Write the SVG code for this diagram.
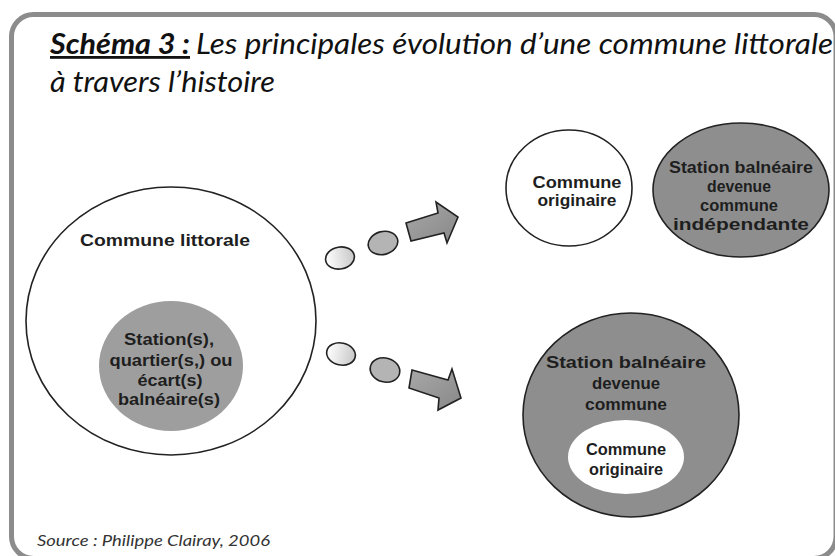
<svg xmlns="http://www.w3.org/2000/svg" width="835" height="556" viewBox="0 0 835 556">
  <defs>
    <linearGradient id="dotLight" x1="0" y1="0" x2="1" y2="0">
      <stop offset="0" stop-color="#ffffff"/>
      <stop offset="1" stop-color="#c8c8c8"/>
    </linearGradient>
    <linearGradient id="arrowGrad" x1="0" y1="0" x2="1" y2="1">
      <stop offset="0" stop-color="#a8a8a8"/>
      <stop offset="1" stop-color="#888888"/>
    </linearGradient>
  </defs>
  <style>
    .title { font-family: "Lato", "Open Sans", "Liberation Sans", sans-serif; font-style: italic; font-size: 28px; fill: #111; }
    .titleb { font-weight: bold; text-decoration: underline; }
    .lbl { font-family: "Liberation Sans", Arial, sans-serif; font-weight: bold; font-size: 17px; fill: #1e1e1e; text-anchor: middle; }
    .src { font-family: "Lato", "Open Sans", "Liberation Sans", sans-serif; font-style: italic; font-size: 16px; fill: #333; }
    .outline { stroke: #222; stroke-width: 1.6; }
    .dot { stroke: #222; stroke-width: 1.6; }
    .arrow { fill: url(#arrowGrad); stroke: #222; stroke-width: 1.6; stroke-linejoin: miter; }
  </style>
  <rect x="0" y="0" width="835" height="556" fill="#ffffff"/>
  <rect id="frame" x="11.5" y="14.5" width="824.5" height="544" rx="22" ry="22" fill="#ffffff" stroke="#8c8c8c" stroke-width="5"/>

  <g id="title">
    <text class="title titleb" x="50" y="54" textLength="140" lengthAdjust="spacingAndGlyphs">Schéma 3 :</text>
    <text class="title" x="196" y="54" textLength="637" lengthAdjust="spacingAndGlyphs">Les principales évolution d’une commune littorale</text>
    <text class="title" x="50" y="92" textLength="225" lengthAdjust="spacingAndGlyphs">à travers l’histoire</text>
  </g>

  <g id="commune-littorale">
    <ellipse cx="171" cy="321" rx="145" ry="134" fill="#ffffff" class="outline"/>
    <text class="lbl" x="165" y="246" textLength="170" lengthAdjust="spacingAndGlyphs">Commune littorale</text>
  </g>
  <g id="stations">
    <ellipse cx="171" cy="366" rx="72" ry="65" fill="#9e9e9e"/>
    <text class="lbl" x="169" y="345" textLength="90" lengthAdjust="spacingAndGlyphs">Station(s),</text>
    <text class="lbl" x="171" y="366" textLength="123" lengthAdjust="spacingAndGlyphs">quartier(s,) ou</text>
    <text class="lbl" x="170" y="386" textLength="65" lengthAdjust="spacingAndGlyphs">écart(s)</text>
    <text class="lbl" x="169" y="405" textLength="102" lengthAdjust="spacingAndGlyphs">balnéaire(s)</text>
  </g>

  <g id="connectors">
    <ellipse cx="340" cy="258" rx="14.5" ry="11" transform="rotate(-10 340 258)" fill="url(#dotLight)" class="dot"/>
    <ellipse cx="383" cy="243" rx="15" ry="11.5" transform="rotate(-15 383 243)" fill="#b4b4b4" class="dot"/>
    <polygon class="arrow" points="406,223 438,213 436,202 458,217 447,243 444,233 411,241"/>
    <ellipse cx="341" cy="354" rx="14.5" ry="11" transform="rotate(12 341 354)" fill="url(#dotLight)" class="dot"/>
    <ellipse cx="385" cy="370" rx="15" ry="12" transform="rotate(15 385 370)" fill="#b4b4b4" class="dot"/>
    <polygon class="arrow" points="412,370 448,380 452,369 461,398 438,410 439,398 409,388"/>
  </g>

  <g id="commune-originaire-1">
    <ellipse cx="569" cy="188" rx="63" ry="58" fill="#ffffff" class="outline"/>
    <text class="lbl" x="577" y="188" textLength="89" lengthAdjust="spacingAndGlyphs">Commune</text>
    <text class="lbl" x="577" y="206" textLength="79" lengthAdjust="spacingAndGlyphs">originaire</text>
  </g>
  <g id="station-independante">
    <ellipse cx="741" cy="190" rx="88" ry="67" fill="#8e8e8e" class="outline"/>
    <text class="lbl" x="741" y="173" textLength="144" lengthAdjust="spacingAndGlyphs">Station balnéaire</text>
    <text class="lbl" x="739" y="192" textLength="64" lengthAdjust="spacingAndGlyphs">devenue</text>
    <text class="lbl" x="739" y="211" textLength="78" lengthAdjust="spacingAndGlyphs">commune</text>
    <text class="lbl" x="741" y="230" textLength="136" lengthAdjust="spacingAndGlyphs">indépendante</text>
  </g>

  <g id="station-commune">
    <ellipse cx="631" cy="415" rx="108" ry="102" fill="#8e8e8e" class="outline"/>
    <text class="lbl" x="626" y="368" textLength="160" lengthAdjust="spacingAndGlyphs">Station balnéaire</text>
    <text class="lbl" x="626" y="389" textLength="68" lengthAdjust="spacingAndGlyphs">devenue</text>
    <text class="lbl" x="626" y="410" textLength="82" lengthAdjust="spacingAndGlyphs">commune</text>
  </g>
  <g id="commune-originaire-2">
    <ellipse cx="626" cy="457" rx="58" ry="37" fill="#ffffff"/>
    <text class="lbl" x="626" y="455" textLength="80" lengthAdjust="spacingAndGlyphs">Commune</text>
    <text class="lbl" x="626" y="475" textLength="74" lengthAdjust="spacingAndGlyphs">originaire</text>
  </g>

  <text class="src" x="37" y="546" textLength="233" lengthAdjust="spacingAndGlyphs">Source : Philippe Clairay, 2006</text>
</svg>
